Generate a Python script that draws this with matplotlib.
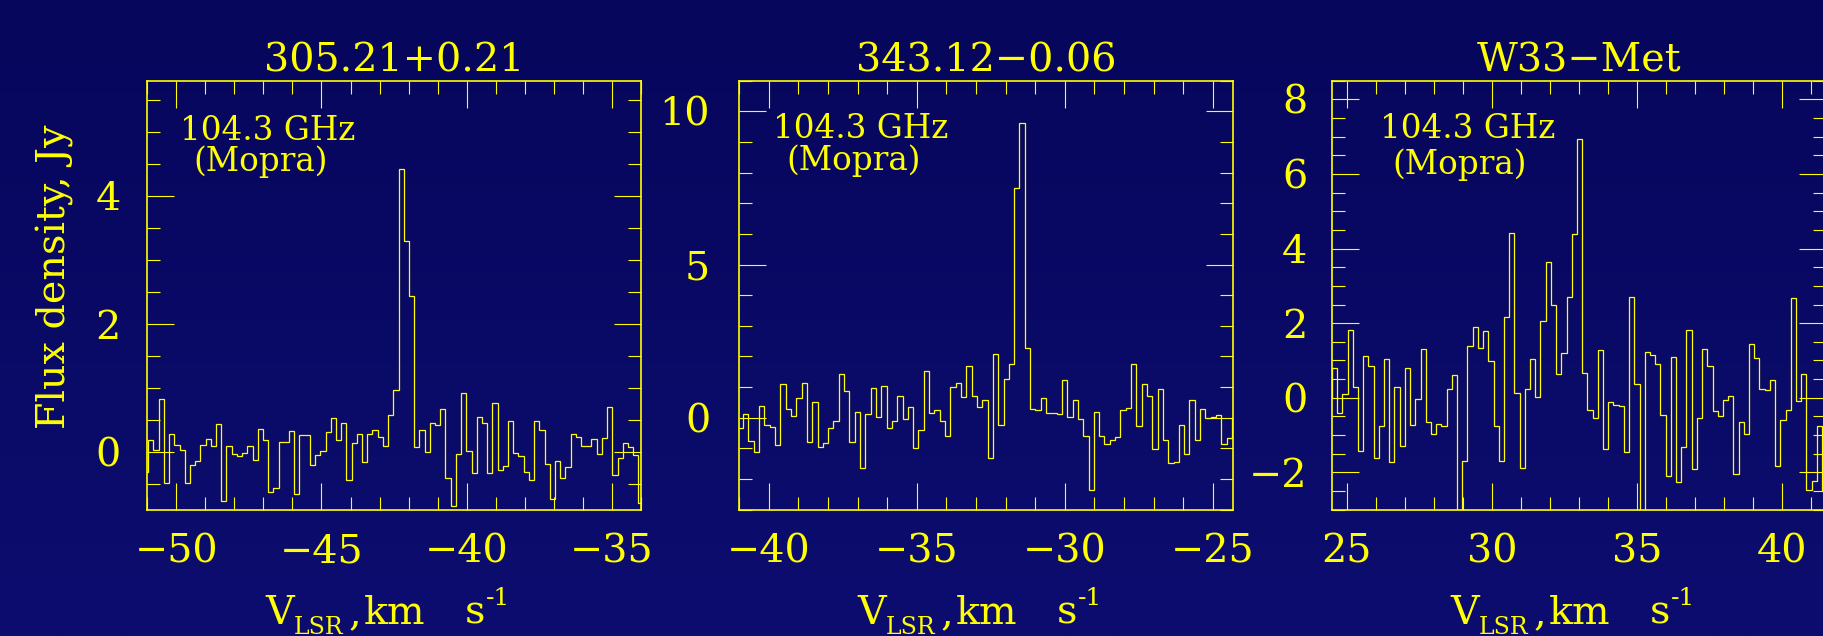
import numpy as np
import matplotlib
matplotlib.use('Agg')
import matplotlib.pyplot as plt
from matplotlib.ticker import MultipleLocator
from matplotlib.colors import LinearSegmentedColormap

plt.rcParams['font.family'] = 'DejaVu Serif'
plt.rcParams['mathtext.fontset'] = 'dejavuserif'

# spectra: Mopra 104.3 GHz, channel width in km/s
dv = 0.1796

# 305.21+0.21, first channel edge
v0_305 = -51.146
flux_305 = [-0.31, 0.19, 0.04, 0.83, -0.48, 0.28, 0.11, 0.04, -0.49, -0.20,
            -0.14, 0.11, 0.20, 0.10, 0.44, -0.77, 0.10, -0.03, -0.06, -0.01,
            0.09, -0.13, 0.36, 0.19, -0.62, -0.56, 0.16, 0.16, 0.33, -0.65,
            0.27, 0.26, -0.20, -0.04, 0.01, 0.31, 0.53, 0.19, 0.46, -0.43,
            0.14, 0.28, -0.16, 0.28, 0.34, 0.24, 0.09, 0.58, 0.97, 4.42,
            3.30, 2.43, 0.08, 0.35, 0.00, 0.46, 0.42, 0.67, -0.41, -0.85,
            -0.03, 0.93, 0.01, -0.32, 0.54, 0.45, -0.33, 0.76, -0.28, -0.22,
            0.49, -0.01, -0.06, -0.31, -0.43, 0.48, 0.35, -0.18, -0.73, -0.14,
            -0.41, -0.24, 0.28, 0.24, 0.10, 0.09, 0.20, -0.03, 0.22, 0.71,
            -0.36, -0.10, 0.14, 0.08, -0.05, -0.80]

# 343.12-0.06
v0_343 = -41.05
flux_343 = [-0.34, 0.11, -0.76, -1.12, 0.37, -0.25, -0.31, -0.88, 1.09, 0.29,
            0.05, 0.64, 1.12, -0.80, 0.53, -0.96, -0.83, -0.35, -0.09, 1.44,
            0.86, -0.80, 0.19, -1.65, 0.13, 0.97, 0.04, 1.04, -0.33, -0.09,
            0.71, -0.05, 0.34, -0.98, -0.39, 1.52, 0.16, 0.26, -0.12, -0.61,
            1.00, 1.15, 0.68, 1.69, 0.71, 0.34, 0.59, -1.31, 2.07, -0.22,
            1.28, 1.76, 7.50, 9.63, 2.28, 0.29, 0.26, 0.64, 0.16, 0.16,
            0.13, 1.22, 0.04, 0.59, -0.03, -0.59, -2.37, 0.19, -0.61, -0.85,
            -0.71, -0.64, 0.26, 0.32, 1.76, -0.26, 1.11, 0.71, -1.03, 0.95,
            -0.74, -1.46, -1.44, -0.24, -1.19, 0.59, -0.71, 0.28, -0.02, 0.03,
            0.10, -0.85, -0.66]

# W33-Met (two channels fall below the plot floor)
v0_w33 = 24.487
flux_w33 = [0.79, -0.40, 0.09, 1.82, 0.29, -1.42, 1.11, 0.85, -1.61, -0.75,
            1.04, -1.72, 0.29, -1.29, 0.79, -0.74, -0.04, 1.31, -0.65, -0.98,
            -0.70, -0.76, 0.23, 0.60, -3.60, -1.69, 1.39, 1.91, 1.33, 1.79,
            0.99, -0.75, -1.70, 2.17, 4.41, 0.14, -1.89, 0.23, 1.05, 0.01,
            2.06, 3.65, 2.50, 0.63, 1.21, 2.71, 4.40, 6.93, 0.67, -0.33,
            -0.53, 1.29, -1.36, -0.11, -0.20, -0.22, -1.46, 2.69, 0.38, -3.60,
            1.23, 1.15, 0.91, -0.46, -2.09, 1.08, -2.27, -1.31, 1.82, -1.91,
            -0.55, 1.30, 0.85, -0.35, -0.48, -0.05, 0.05, -2.03, -0.66, -0.98,
            1.43, 1.06, 0.23, 0.21, 0.49, -1.83, -0.60, -0.33, 2.67, -0.09,
            0.63, -2.48, -2.22, -0.75, -2.49]

titles = ['305.21+0.21', '343.12\u22120.06', 'W33\u2212Met']
starts = [v0_305, v0_343, v0_w33]
fluxes = [flux_305, flux_343, flux_w33]
xlims = [(-51, -34), (-41, -24.32), (24.5, 41.5)]
ylims = [(-0.9, 5.8), (-3, 11), (-3, 8.5)]
ymajor = [2, 5, 2]
yminor = [0.5, 1, 0.5]

YEL = '#ffff00'
W, H = 1823, 636
FS = 28.5

fig = plt.figure(figsize=(W / 100, H / 100), dpi=100)
fig.patch.set_facecolor('#09096a')

# dark blue background, slightly lighter towards the bottom
bg = fig.add_axes([0, 0, 1, 1], zorder=-10)
grad = np.linspace(0, 1, 256).reshape(-1, 1)
bg.imshow(grad, aspect='auto', extent=[0, 1, 0, 1], origin='upper',
          cmap=LinearSegmentedColormap.from_list('bg', ['#06065c', '#0d0d70']))
bg.axis('off')

lefts = [147.3, 739.3, 1332.3]
pw, top, bot = 493.5, 80.7, 509.7
ypads = [19, 21, 18]
# label positions (px from panel left, px from figure top)
ghz_pos = [(32.7, 140), (34, 137.5), (47.7, 138.5)]
mop_pos = [(45.7, 171), (47.4, 170), (60, 174)]


def fx(px):
    return px / W


def fy(py):
    return 1 - py / H


for i in range(3):
    L = lefts[i]
    ax = fig.add_axes([fx(L), fy(bot), pw / W, (bot - top) / H])
    ax.set_facecolor('none')
    edges = starts[i] + dv * np.arange(len(fluxes[i]) + 1)
    ax.stairs(fluxes[i], edges, color=YEL, lw=0.9)
    ax.set_xlim(*xlims[i])
    ax.set_ylim(*ylims[i])
    ax.xaxis.set_major_locator(MultipleLocator(5))
    ax.xaxis.set_minor_locator(MultipleLocator(1))
    ax.yaxis.set_major_locator(MultipleLocator(ymajor[i]))
    ax.yaxis.set_minor_locator(MultipleLocator(yminor[i]))
    for s in ax.spines.values():
        s.set_color(YEL)
        s.set_linewidth(1.2)
    ax.tick_params(which='both', direction='in', top=True, right=True,
                   color=YEL, labelcolor=YEL, width=0.8)
    ax.tick_params(which='major', length=19.5)
    ax.tick_params(which='minor', length=9.7)
    ax.tick_params(axis='x', which='major', pad=17, labelsize=FS)
    ax.tick_params(axis='y', which='major', pad=ypads[i], labelsize=FS)

    ax.text(0.5, 1 + 9 / (bot - top), titles[i], transform=ax.transAxes,
            ha='center', va='baseline', color=YEL, fontsize=FS)

    gx, gy = ghz_pos[i]
    mx, my = mop_pos[i]
    fig.text(fx(L + gx), fy(gy), '104.3 GHz', color=YEL, fontsize=23.5,
             va='baseline')
    fig.text(fx(L + mx), fy(my), '(Mopra)', color=YEL, fontsize=23.5,
             va='baseline')

    # V_LSR, km s^-1
    fig.text(fx(L + 117.7), fy(624), 'V', color=YEL, fontsize=FS, va='baseline')
    fig.text(fx(L + 146.7), fy(634), 'LSR', color=YEL, fontsize=17, va='baseline')
    fig.text(fx(L + 201.7), fy(624), ',', color=YEL, fontsize=FS, va='baseline')
    fig.text(fx(L + 216.7), fy(624), 'km', color=YEL, fontsize=FS, va='baseline')
    fig.text(fx(L + 317.7), fy(624), 's', color=YEL, fontsize=FS, va='baseline')
    fig.text(fx(L + 338.7), fy(605), '-1', color=YEL, fontsize=18, va='baseline')

fig.text(fx(55), fy(277), 'Flux density, Jy', rotation=90, color=YEL,
         fontsize=FS, ha='center', va='center')

fig.savefig('out.png', dpi=100, facecolor=fig.get_facecolor())
